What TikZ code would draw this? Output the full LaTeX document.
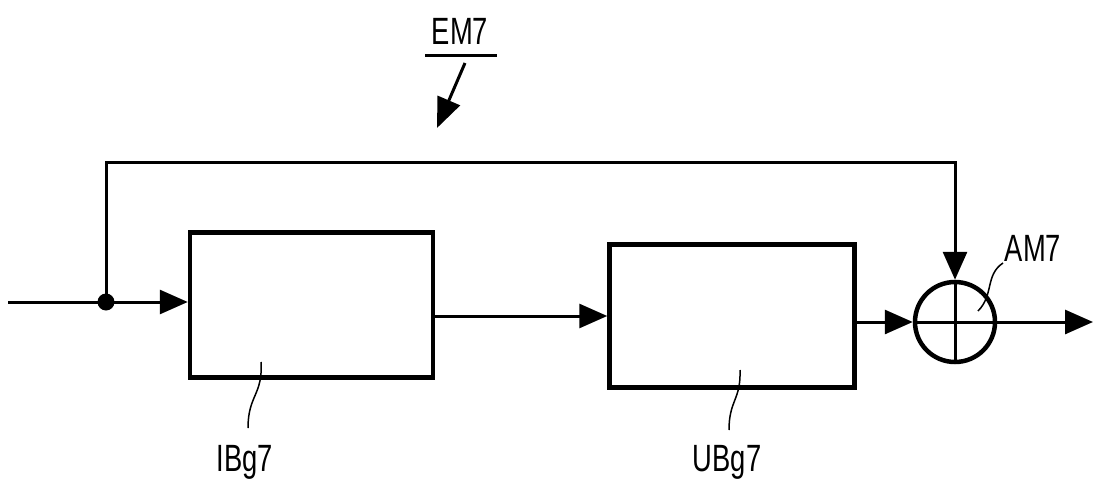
\documentclass[tikz,border=0pt]{standalone}
\usepackage{fontspec}
\newfontfamily\lblfont[FakeStretch=0.72]{Liberation Sans}
\usetikzlibrary{arrows.meta}
\tikzset{
  blk/.style={draw, line width=4.5pt, rectangle, inner sep=0pt},
  sig/.style={line width=3pt, -{Triangle[length=28pt,width=24pt]}},
  wire/.style={line width=3pt},
  lead/.style={line width=1.5pt},
  lbl/.style={font=\lblfont\fontsize{38}{40}\selectfont, inner sep=0pt}
}
\begin{document}
\begin{tikzpicture}[x=1pt,y=-1pt]
 \useasboundingbox (0,0) rectangle (1095,487);
 \begin{scope}
  % Define the blocks
  \node[blk, minimum width=243pt, minimum height=145pt] (ibg) at (311.5,305) {};
  \node[blk, minimum width=245pt, minimum height=143pt] (ubg) at (732,316) {};
  \node[draw, circle, line width=4.5pt, minimum size=80pt, inner sep=0pt] (am) at (955,322) {};
  \coordinate (in) at (8,302);
  \coordinate (split) at (106,302);
  \coordinate (fbtop) at (106,162);
  \coordinate (out) at (1093,322);
  % Draw the signals
  \draw[wire] (in) -- (split);
  \draw[sig] (split) -- (split -| ibg.west);
  \draw[sig] (split) -- (fbtop) -| (am.north);
  \draw[sig] (ibg.east |- ubg.west) -- (ubg.west);
  \draw[sig] (ubg.east |- am.west) -- (am.west);
  \draw[sig] (am.east) -- (out);
  \draw[wire] (am.north) -- (am.south);
  \draw[wire] (am.west) -- (am.east);
  \fill (split) circle (8.5);
 \end{scope}
 \begin{scope}
  % Labels and leaders
  \node[lbl] (em) at (460,31) {EM7};
  \coordinate (emul) at (425,56);
  \coordinate (emur) at (497,56);
  \draw[wire] (emul) -- (emur);
  \coordinate (emtail) at (465,63);
  \coordinate (emtip) at (437,128);
  \draw[line width=3pt, -{Triangle[length=30pt,width=24pt]}] (emtail) -- (emtip);
  \node[lbl] (ibl) at (245,462) {IBg7};
  \coordinate (ibin) at (261,362);
  \draw[lead] (ibin) .. controls (263,395) and (248,395) .. (248,428);
  \node[lbl] (ubl) at (727,462) {UBg7};
  \coordinate (ubin) at (740,370);
  \draw[lead] (ubin) .. controls (741,400) and (729,400) .. (729,430);
  \node[lbl] (aml) at (1033,248) {AM7};
  \coordinate (amin) at (978,311);
  \draw[lead] (1003,263) .. controls (985,275) and (994,295) .. (amin);
 \end{scope}
\end{tikzpicture}
\end{document}
